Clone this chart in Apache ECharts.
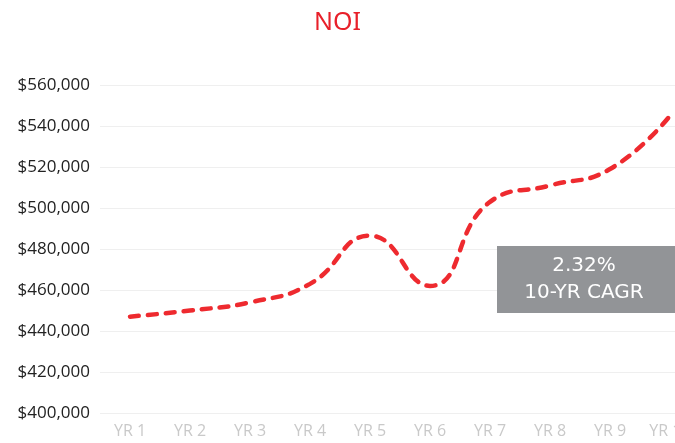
<!DOCTYPE html>
<html>
<head>
<meta charset="utf-8">
<script src="https://cdn.jsdelivr.net/npm/echarts@6/dist/echarts.min.js"></script>
<style>
  html, body { margin: 0; padding: 0; background: #fff; }
  #noi { width: 675px; height: 443px; }
</style>
</head>
<body>
<div id="noi"></div>
<script>
// 年份和NOI数值
var years = ['YR 1', 'YR 2', 'YR 3', 'YR 4', 'YR 5', 'YR 6', 'YR 7', 'YR 8', 'YR 9', 'YR 10'];
var noiValues = [447000, 450000, 454000, 463000, 486500, 462000, 503000, 511000, 519000, 545000];
var cagrLines = ['2.32%', '10-YR CAGR'];

var myChart = echarts.init(document.getElementById('noi'));
option = {
    animation: false,
    title: {
        text: 'NOI', left: 'center', top: 5,
        textStyle: { color: '#e8202a', fontSize: 25, fontWeight: 'normal', fontFamily: 'Noto Sans' }
    },
    grid: { left: 100, width: 600, top: 85, bottom: 30, containLabel: false, outerBoundsMode: 'none' },
    xAxis: {
        type: 'category', data: years, boundaryGap: true,
        axisLine: { show: false }, axisTick: { show: false },
        axisLabel: { color: '#c9c9c9', fontSize: 16, fontFamily: 'Open Sans', margin: 10, interval: 0 }
    },
    yAxis: {
        type: 'value', min: 400000, max: 560000, interval: 20000,
        axisLine: { show: false }, axisTick: { show: false },
        splitLine: { lineStyle: { color: '#efefef', width: 1 } },
        axisLabel: {
            color: '#222', fontSize: 17, fontFamily: 'Open Sans', margin: 10,
            formatter: function (v) { return '$' + v.toLocaleString('en-US'); }
        }
    },
    series: [{
        type: 'line', data: noiValues, smooth: 0.5, symbol: 'none',
        lineStyle: { color: '#ee2a2f', width: 4.5, type: [9, 9], cap: 'round' }
    }],
    graphic: [{
        type: 'group', left: 497, top: 246, z: 100,
        children: [
            { type: 'rect', z: 100, shape: { x: 0, y: 0, width: 190, height: 67 }, style: { fill: '#929497' } },
            { type: 'text', z: 101, style: { text: cagrLines[0], x: 87, y: 20, align: 'center', verticalAlign: 'middle', fill: '#fff', fontSize: 20, fontFamily: 'DejaVu Sans' } },
            { type: 'text', z: 101, style: { text: cagrLines[1], x: 87, y: 47, align: 'center', verticalAlign: 'middle', fill: '#fff', fontSize: 20, fontFamily: 'DejaVu Sans' } }
        ]
    }]
};
myChart.setOption(option);
</script>
</body>
</html>
